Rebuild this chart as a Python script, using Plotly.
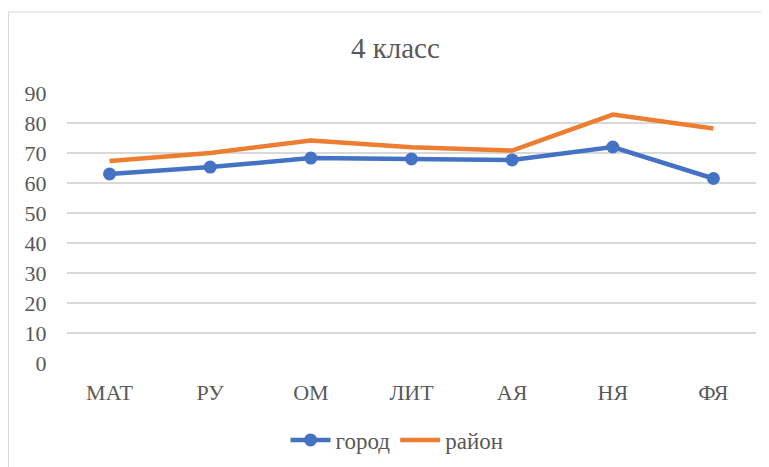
import plotly.graph_objects as go

categories = ["МАТ", "РУ", "ОМ", "ЛИТ", "АЯ", "НЯ", "ФЯ"]
gorod = [63.0, 65.3, 68.3, 68.0, 67.7, 72.0, 61.5]
rayon = [67.3, 70.0, 74.2, 71.9, 70.8, 82.8, 78.2]
y_ticks = [0, 10, 20, 30, 40, 50, 60, 70, 80, 90]

fig = go.Figure()
fig.add_trace(go.Scatter(
    x=categories, y=gorod, name="город", mode="lines+markers",
    line=dict(color="#4472C4", width=4.5),
    marker=dict(color="#4472C4", size=13),
))
fig.add_trace(go.Scatter(
    x=categories, y=rayon, name="район", mode="lines",
    line=dict(color="#ED7D31", width=4.5),
))

W, H = 761, 459
ML, MR, MT, MB = 59, 13, 85, 104
PW, PH = W - ML - MR, H - MT - MB

font_family = "Liberation Serif"
fig.update_layout(
    width=W, height=H,
    margin=dict(l=ML, r=MR, t=MT, b=MB, autoexpand=False),
    paper_bgcolor="white", plot_bgcolor="white",
    font=dict(family=font_family, color="#595959", size=22),
    title=dict(text="4 класс", x=0.509, xanchor="center", y=0.913, yanchor="middle",
               font=dict(size=29, color="#595959", family=font_family)),
    showlegend=True,
    legend=dict(orientation="h", x=0.479, xanchor="center", y=-0.285, yanchor="middle",
                font=dict(size=23, color="#595959", family=font_family),
                itemwidth=40, tracegroupgap=0),
    shapes=[dict(type="rect", xref="paper", yref="paper",
                 x0=(0.5 - ML) / PW, x1=(W + 20 - ML) / PW,
                 y0=-(MB + 20) / PH, y1=(H - 4 - MB) / PH,
                 line=dict(color="#D9D9D9", width=1), fillcolor="rgba(0,0,0,0)", layer="below")],
)
fig.update_xaxes(
    type="category", showgrid=False, zeroline=False, showline=False,
    ticks="outside", ticklen=10, tickcolor="rgba(0,0,0,0)",
    tickfont=dict(size=22, color="#595959", family=font_family),
)
fig.update_yaxes(
    range=[0, 90], tickvals=y_ticks, showgrid=True, gridcolor="#D9D9D9", gridwidth=1.5,
    zeroline=False, showline=False,
    ticks="outside", ticklen=15, tickcolor="rgba(0,0,0,0)",
    tickfont=dict(size=22, color="#595959", family=font_family),
)

fig.write_html("out.html")
